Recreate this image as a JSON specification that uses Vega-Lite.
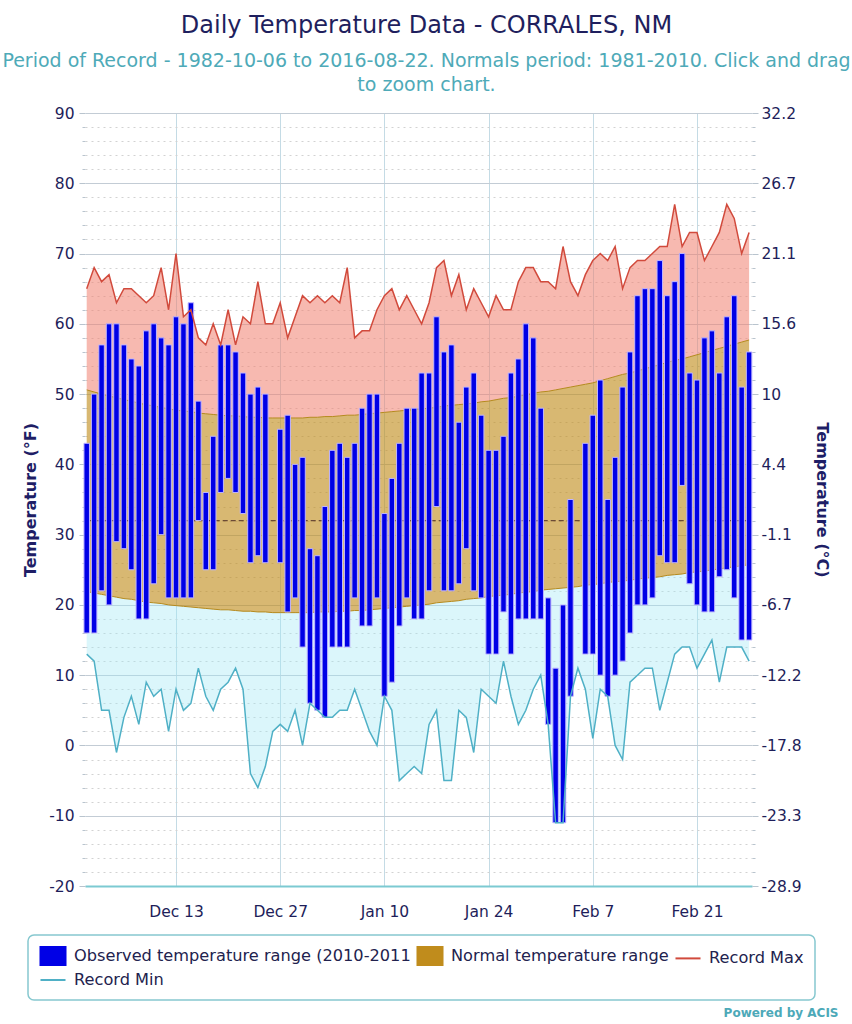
{
  "$schema": "https://vega.github.io/schema/vega-lite/v6.json",
  "width": 667,
  "height": 773,
  "autosize": {"type": "none"},
  "padding": {"left": 85, "top": 113, "right": 100, "bottom": 138},
  "background": "white",
  "title": {
    "text": "Daily Temperature Data - CORRALES, NM",
    "subtitle": ["Period of Record - 1982-10-06 to 2016-08-22. Normals period: 1981-2010. Click and drag", "to zoom chart."],
    "anchor": "middle",
    "frame": "group",
    "dx": 8,
    "font": "DejaVu Sans",
    "fontSize": 24,
    "fontWeight": "normal",
    "color": "#1f1f5e",
    "subtitleFont": "DejaVu Sans",
    "subtitleFontSize": 19,
    "subtitleColor": "#4eaab8",
    "subtitleLineHeight": 24,
    "subtitlePadding": 14,
    "offset": 11
  },
  "data": {"values": [
    {"d":"2010-12-01","lo":16,"hi":43,"rx":65,"rn":13,"nx":50.6,"nn":21.9},
    {"d":"2010-12-02","lo":16,"hi":50,"rx":68,"rn":12,"nx":50.3,"nn":21.7},
    {"d":"2010-12-03","lo":22,"hi":57,"rx":66,"rn":5,"nx":50.0,"nn":21.5},
    {"d":"2010-12-04","lo":20,"hi":60,"rx":67,"rn":5,"nx":49.7,"nn":21.3},
    {"d":"2010-12-05","lo":29,"hi":60,"rx":63,"rn":-1,"nx":49.5,"nn":21.1},
    {"d":"2010-12-06","lo":28,"hi":57,"rx":65,"rn":4,"nx":49.2,"nn":20.9},
    {"d":"2010-12-07","lo":25,"hi":55,"rx":65,"rn":7,"nx":49.0,"nn":20.8},
    {"d":"2010-12-08","lo":18,"hi":54,"rx":64,"rn":3,"nx":48.7,"nn":20.6},
    {"d":"2010-12-09","lo":18,"hi":59,"rx":63,"rn":9,"nx":48.5,"nn":20.4},
    {"d":"2010-12-10","lo":23,"hi":60,"rx":64,"rn":7,"nx":48.3,"nn":20.3},
    {"d":"2010-12-11","lo":30,"hi":58,"rx":68,"rn":8,"nx":48.1,"nn":20.2},
    {"d":"2010-12-12","lo":21,"hi":57,"rx":62,"rn":2,"nx":47.9,"nn":20.0},
    {"d":"2010-12-13","lo":21,"hi":61,"rx":70,"rn":8,"nx":47.7,"nn":19.9},
    {"d":"2010-12-14","lo":21,"hi":60,"rx":61,"rn":5,"nx":47.6,"nn":19.8},
    {"d":"2010-12-15","lo":21,"hi":63,"rx":62,"rn":6,"nx":47.5,"nn":19.7},
    {"d":"2010-12-16","lo":32,"hi":49,"rx":58,"rn":11,"nx":47.3,"nn":19.6},
    {"d":"2010-12-17","lo":25,"hi":36,"rx":57,"rn":7,"nx":47.2,"nn":19.5},
    {"d":"2010-12-18","lo":25,"hi":44,"rx":60,"rn":5,"nx":47.1,"nn":19.4},
    {"d":"2010-12-19","lo":36,"hi":57,"rx":57,"rn":8,"nx":47.0,"nn":19.3},
    {"d":"2010-12-20","lo":38,"hi":57,"rx":62,"rn":9,"nx":46.9,"nn":19.3},
    {"d":"2010-12-21","lo":36,"hi":56,"rx":57,"rn":11,"nx":46.9,"nn":19.2},
    {"d":"2010-12-22","lo":33,"hi":53,"rx":61,"rn":8,"nx":46.8,"nn":19.1},
    {"d":"2010-12-23","lo":26,"hi":50,"rx":60,"rn":-4,"nx":46.7,"nn":19.1},
    {"d":"2010-12-24","lo":27,"hi":51,"rx":66,"rn":-6,"nx":46.7,"nn":19.0},
    {"d":"2010-12-25","lo":26,"hi":50,"rx":60,"rn":-3,"nx":46.6,"nn":19.0},
    {"d":"2010-12-26","lo":null,"hi":null,"rx":60,"rn":2,"nx":46.6,"nn":18.9},
    {"d":"2010-12-27","lo":26,"hi":45,"rx":63,"rn":3,"nx":46.6,"nn":18.9},
    {"d":"2010-12-28","lo":19,"hi":47,"rx":58,"rn":2,"nx":46.6,"nn":18.9},
    {"d":"2010-12-29","lo":21,"hi":40,"rx":61,"rn":5,"nx":46.6,"nn":18.9},
    {"d":"2010-12-30","lo":14,"hi":41,"rx":64,"rn":0,"nx":46.6,"nn":18.9},
    {"d":"2010-12-31","lo":6,"hi":28,"rx":63,"rn":6,"nx":46.7,"nn":18.9},
    {"d":"2011-01-01","lo":5,"hi":27,"rx":64,"rn":5,"nx":46.7,"nn":19.0},
    {"d":"2011-01-02","lo":4,"hi":34,"rx":63,"rn":4,"nx":46.8,"nn":19.0},
    {"d":"2011-01-03","lo":14,"hi":42,"rx":64,"rn":4,"nx":46.8,"nn":19.0},
    {"d":"2011-01-04","lo":14,"hi":43,"rx":63,"rn":5,"nx":46.9,"nn":19.1},
    {"d":"2011-01-05","lo":14,"hi":41,"rx":68,"rn":5,"nx":47.0,"nn":19.1},
    {"d":"2011-01-06","lo":21,"hi":43,"rx":58,"rn":8,"nx":47.0,"nn":19.2},
    {"d":"2011-01-07","lo":17,"hi":48,"rx":59,"rn":5,"nx":47.1,"nn":19.2},
    {"d":"2011-01-08","lo":17,"hi":50,"rx":59,"rn":2,"nx":47.2,"nn":19.3},
    {"d":"2011-01-09","lo":21,"hi":50,"rx":62,"rn":0,"nx":47.3,"nn":19.4},
    {"d":"2011-01-10","lo":7,"hi":33,"rx":64,"rn":7,"nx":47.4,"nn":19.5},
    {"d":"2011-01-11","lo":9,"hi":38,"rx":65,"rn":5,"nx":47.5,"nn":19.6},
    {"d":"2011-01-12","lo":17,"hi":43,"rx":62,"rn":-5,"nx":47.6,"nn":19.7},
    {"d":"2011-01-13","lo":21,"hi":48,"rx":64,"rn":-4,"nx":47.7,"nn":19.8},
    {"d":"2011-01-14","lo":18,"hi":48,"rx":62,"rn":-3,"nx":47.8,"nn":19.9},
    {"d":"2011-01-15","lo":18,"hi":53,"rx":60,"rn":-4,"nx":47.9,"nn":20.0},
    {"d":"2011-01-16","lo":22,"hi":53,"rx":63,"rn":3,"nx":48.0,"nn":20.1},
    {"d":"2011-01-17","lo":34,"hi":61,"rx":68,"rn":5,"nx":48.1,"nn":20.3},
    {"d":"2011-01-18","lo":22,"hi":56,"rx":69,"rn":-5,"nx":48.3,"nn":20.4},
    {"d":"2011-01-19","lo":22,"hi":57,"rx":64,"rn":-5,"nx":48.4,"nn":20.5},
    {"d":"2011-01-20","lo":23,"hi":46,"rx":67,"rn":5,"nx":48.5,"nn":20.6},
    {"d":"2011-01-21","lo":28,"hi":51,"rx":62,"rn":4,"nx":48.6,"nn":20.8},
    {"d":"2011-01-22","lo":22,"hi":53,"rx":65,"rn":-1,"nx":48.7,"nn":20.9},
    {"d":"2011-01-23","lo":21,"hi":47,"rx":63,"rn":8,"nx":48.9,"nn":21.0},
    {"d":"2011-01-24","lo":13,"hi":42,"rx":61,"rn":7,"nx":49.0,"nn":21.2},
    {"d":"2011-01-25","lo":13,"hi":42,"rx":64,"rn":6,"nx":49.2,"nn":21.3},
    {"d":"2011-01-26","lo":19,"hi":44,"rx":62,"rn":12,"nx":49.4,"nn":21.4},
    {"d":"2011-01-27","lo":13,"hi":53,"rx":62,"rn":7,"nx":49.5,"nn":21.5},
    {"d":"2011-01-28","lo":18,"hi":55,"rx":66,"rn":3,"nx":49.7,"nn":21.7},
    {"d":"2011-01-29","lo":18,"hi":60,"rx":68,"rn":5,"nx":49.9,"nn":21.8},
    {"d":"2011-01-30","lo":18,"hi":58,"rx":68,"rn":8,"nx":50.1,"nn":21.9},
    {"d":"2011-01-31","lo":18,"hi":48,"rx":66,"rn":10,"nx":50.3,"nn":22.1},
    {"d":"2011-02-01","lo":3,"hi":21,"rx":66,"rn":3,"nx":50.4,"nn":22.2},
    {"d":"2011-02-02","lo":-11,"hi":11,"rx":65,"rn":-11,"nx":50.6,"nn":22.3},
    {"d":"2011-02-03","lo":-11,"hi":20,"rx":71,"rn":-11,"nx":50.8,"nn":22.4},
    {"d":"2011-02-04","lo":7,"hi":35,"rx":66,"rn":7,"nx":51.0,"nn":22.5},
    {"d":"2011-02-05","lo":null,"hi":null,"rx":64,"rn":11,"nx":51.2,"nn":22.6},
    {"d":"2011-02-06","lo":13,"hi":43,"rx":67,"rn":8,"nx":51.4,"nn":22.8},
    {"d":"2011-02-07","lo":13,"hi":47,"rx":69,"rn":1,"nx":51.6,"nn":22.9},
    {"d":"2011-02-08","lo":10,"hi":52,"rx":70,"rn":8,"nx":51.9,"nn":23.0},
    {"d":"2011-02-09","lo":7,"hi":35,"rx":69,"rn":7,"nx":52.2,"nn":23.2},
    {"d":"2011-02-10","lo":10,"hi":41,"rx":71,"rn":0,"nx":52.5,"nn":23.3},
    {"d":"2011-02-11","lo":12,"hi":51,"rx":65,"rn":-2,"nx":52.8,"nn":23.4},
    {"d":"2011-02-12","lo":16,"hi":56,"rx":68,"rn":9,"nx":53.0,"nn":23.5},
    {"d":"2011-02-13","lo":20,"hi":64,"rx":69,"rn":10,"nx":53.3,"nn":23.7},
    {"d":"2011-02-14","lo":20,"hi":65,"rx":69,"rn":11,"nx":53.6,"nn":23.8},
    {"d":"2011-02-15","lo":21,"hi":65,"rx":70,"rn":11,"nx":53.9,"nn":23.9},
    {"d":"2011-02-16","lo":27,"hi":69,"rx":71,"rn":5,"nx":54.2,"nn":24.0},
    {"d":"2011-02-17","lo":26,"hi":64,"rx":71,"rn":9,"nx":54.5,"nn":24.2},
    {"d":"2011-02-18","lo":26,"hi":66,"rx":77,"rn":13,"nx":54.8,"nn":24.3},
    {"d":"2011-02-19","lo":37,"hi":70,"rx":71,"rn":14,"nx":55.0,"nn":24.4},
    {"d":"2011-02-20","lo":23,"hi":53,"rx":73,"rn":14,"nx":55.3,"nn":24.6},
    {"d":"2011-02-21","lo":20,"hi":52,"rx":73,"rn":11,"nx":55.6,"nn":24.7},
    {"d":"2011-02-22","lo":19,"hi":58,"rx":69,"rn":13,"nx":55.9,"nn":24.8},
    {"d":"2011-02-23","lo":19,"hi":59,"rx":71,"rn":15,"nx":56.2,"nn":25.0},
    {"d":"2011-02-24","lo":24,"hi":53,"rx":73,"rn":9,"nx":56.5,"nn":25.1},
    {"d":"2011-02-25","lo":25,"hi":61,"rx":77,"rn":14,"nx":56.8,"nn":25.3},
    {"d":"2011-02-26","lo":21,"hi":64,"rx":75,"rn":14,"nx":57.1,"nn":25.4},
    {"d":"2011-02-27","lo":15,"hi":51,"rx":70,"rn":14,"nx":57.4,"nn":25.6},
    {"d":"2011-02-28","lo":15,"hi":56,"rx":73,"rn":12,"nx":57.7,"nn":25.7}
  ]},
  "encoding": {
    "x": {
      "field": "d",
      "type": "temporal",
      "scale": {
        "type": "utc",
        "nice": false,
        "padding": 0,
        "domain": [
          {"year": 2010, "month": "Nov", "date": 30, "hours": 18, "minutes": 30, "utc": true},
          {"year": 2011, "month": "Feb", "date": 28, "hours": 9, "minutes": 20, "utc": true}
        ]
      },
      "axis": {
        "values": [
          {"year": 2010, "month": "Dec", "date": 13, "utc": true},
          {"year": 2010, "month": "Dec", "date": 27, "utc": true},
          {"year": 2011, "month": "Jan", "date": 10, "utc": true},
          {"year": 2011, "month": "Jan", "date": 24, "utc": true},
          {"year": 2011, "month": "Feb", "date": 7, "utc": true},
          {"year": 2011, "month": "Feb", "date": 21, "utc": true}
        ],
        "labelExpr": "utcFormat(datum.value, '%b %-d')",
        "grid": true,
        "gridColor": "#c4dbe5",
        "gridWidth": 1,
        "ticks": false,
        "domainColor": "#7ccad2",
        "domainWidth": 2,
        "labelFontSize": 15.5,
        "labelColor": "#1e1e5a",
        "labelPadding": 18,
        "labelFlush": false,
        "labelOverlap": false,
        "title": "Powered by ACIS",
        "titleX": 753,
        "titleY": 130,
        "titleAlign": "right",
        "titleAnchor": "end",
        "titleBaseline": "alphabetic",
        "titleFontSize": 12,
        "titleFontWeight": "bold",
        "titleColor": "#4da9b8"
      }
    }
  },
  "layer": [
    {
      "layer": [
        {
          "mark": {"type": "area", "color": "#f08070", "opacity": 0.55},
          "encoding": {
            "y": {"field": "rx", "type": "quantitative", "scale": {"domain": [-20, 90], "nice": false, "zero": false},
              "axis": {"values": [-20,-18,-16,-14,-12,-10,-8,-6,-4,-2,0,2,4,6,8,10,12,14,16,18,20,22,24,26,28,30,32,34,36,38,40,42,44,46,48,50,52,54,56,58,60,62,64,66,68,70,72,74,76,78,80,82,84,86,88,90], "labelExpr": "datum.value % 10 === 0 ? (datum.value < 0 ? '-' + abs(datum.value) : '' + datum.value) : ''", "grid": true, "gridColor": {"condition": {"test": "datum.value % 10 !== 0", "value": "#d2d2d2"}, "value": "#c3ccd5"}, "gridDash": {"condition": {"test": "datum.value % 10 !== 0", "value": [2, 4]}, "value": []}, "tickSize": {"condition": {"test": "datum.value % 10 !== 0", "value": 3}, "value": 6}, "tickColor": "#b9c4ce", "domain": false, "labelFontSize": 15.5, "labelColor": "#1e1e5a", "labelPadding": 5, "labelOverlap": false, "labelFlush": false, "title": "Temperature (°F)", "titleFontSize": 16, "titleFontWeight": "bold", "titleColor": "#1e1e66", "titlePadding": 10}},
            "y2": {"field": "nx"}
          }
        },
        {
          "mark": {"type": "area", "color": "#a0e8f5", "opacity": 0.38},
          "encoding": {
            "y": {"field": "nn", "type": "quantitative", "scale": {"domain": [-20, 90], "nice": false, "zero": false},
              "axis": {"values": [-20,-18,-16,-14,-12,-10,-8,-6,-4,-2,0,2,4,6,8,10,12,14,16,18,20,22,24,26,28,30,32,34,36,38,40,42,44,46,48,50,52,54,56,58,60,62,64,66,68,70,72,74,76,78,80,82,84,86,88,90], "labelExpr": "datum.value % 10 === 0 ? (datum.value < 0 ? '-' + abs(datum.value) : '' + datum.value) : ''", "grid": true, "gridColor": {"condition": {"test": "datum.value % 10 !== 0", "value": "#d2d2d2"}, "value": "#c3ccd5"}, "gridDash": {"condition": {"test": "datum.value % 10 !== 0", "value": [2, 4]}, "value": []}, "tickSize": {"condition": {"test": "datum.value % 10 !== 0", "value": 3}, "value": 6}, "tickColor": "#b9c4ce", "domain": false, "labelFontSize": 15.5, "labelColor": "#1e1e5a", "labelPadding": 5, "labelOverlap": false, "labelFlush": false, "title": "Temperature (°F)", "titleFontSize": 16, "titleFontWeight": "bold", "titleColor": "#1e1e66", "titlePadding": 10}},
            "y2": {"field": "rn"}
          }
        },
        {
          "mark": {"type": "area", "opacity": 0.62},
          "encoding": {
            "y": {"field": "nx", "type": "quantitative", "scale": {"domain": [-20, 90], "nice": false, "zero": false},
              "axis": {"values": [-20,-18,-16,-14,-12,-10,-8,-6,-4,-2,0,2,4,6,8,10,12,14,16,18,20,22,24,26,28,30,32,34,36,38,40,42,44,46,48,50,52,54,56,58,60,62,64,66,68,70,72,74,76,78,80,82,84,86,88,90], "labelExpr": "datum.value % 10 === 0 ? (datum.value < 0 ? '-' + abs(datum.value) : '' + datum.value) : ''", "grid": true, "gridColor": {"condition": {"test": "datum.value % 10 !== 0", "value": "#d2d2d2"}, "value": "#c3ccd5"}, "gridDash": {"condition": {"test": "datum.value % 10 !== 0", "value": [2, 4]}, "value": []}, "tickSize": {"condition": {"test": "datum.value % 10 !== 0", "value": 3}, "value": 6}, "tickColor": "#b9c4ce", "domain": false, "labelFontSize": 15.5, "labelColor": "#1e1e5a", "labelPadding": 5, "labelOverlap": false, "labelFlush": false, "title": "Temperature (°F)", "titleFontSize": 16, "titleFontWeight": "bold", "titleColor": "#1e1e66", "titlePadding": 10}},
            "y2": {"field": "nn"},
            "color": {
              "datum": "Normal temperature range",
              "type": "nominal",
              "scale": {"domain": ["Observed temperature range (2010-2011", "Normal temperature range", "Record Max", "Record Min"], "range": ["#0000e6", "#c08c1c", "#d14a3c", "#4fb0c6"]},
              "legend": {"title": null, "orient": "none", "legendX": -57, "legendY": 822, "direction": "horizontal", "columns": 3, "symbolOffset": 4,
                "encode": {"symbols": {"update": {
                  "shape": {"signal": "indexof(['Record Max','Record Min'], datum.value) >= 0 ? 'M-1.39,0L1.39,0' : 'M-1.39,-1L1.39,-1L1.39,1L-1.39,1Z'"},
                  "fill": {"signal": "datum.value === 'Normal temperature range' ? '#c08c1c' : (indexof(['Record Max','Record Min'], datum.value) >= 0 ? 'transparent' : '#0000ee')"},
                  "stroke": {"signal": "datum.value === 'Record Max' ? '#d14a3c' : (datum.value === 'Record Min' ? '#4fb0c6' : 'transparent')"},
                  "strokeWidth": {"value": 2}, "opacity": {"value": 1}, "fillOpacity": {"value": 1}, "strokeOpacity": {"value": 1}, "size": {"value": 324}}}}}
            }
          }
        },
        {
          "mark": {"type": "line", "color": "#b58a1e", "strokeWidth": 1},
          "encoding": {
            "y": {"field": "nx", "type": "quantitative", "scale": {"domain": [-20, 90], "nice": false, "zero": false},
              "axis": {"values": [-20,-18,-16,-14,-12,-10,-8,-6,-4,-2,0,2,4,6,8,10,12,14,16,18,20,22,24,26,28,30,32,34,36,38,40,42,44,46,48,50,52,54,56,58,60,62,64,66,68,70,72,74,76,78,80,82,84,86,88,90], "labelExpr": "datum.value % 10 === 0 ? (datum.value < 0 ? '-' + abs(datum.value) : '' + datum.value) : ''", "grid": true, "gridColor": {"condition": {"test": "datum.value % 10 !== 0", "value": "#d2d2d2"}, "value": "#c3ccd5"}, "gridDash": {"condition": {"test": "datum.value % 10 !== 0", "value": [2, 4]}, "value": []}, "tickSize": {"condition": {"test": "datum.value % 10 !== 0", "value": 3}, "value": 6}, "tickColor": "#b9c4ce", "domain": false, "labelFontSize": 15.5, "labelColor": "#1e1e5a", "labelPadding": 5, "labelOverlap": false, "labelFlush": false, "title": "Temperature (°F)", "titleFontSize": 16, "titleFontWeight": "bold", "titleColor": "#1e1e66", "titlePadding": 10}}
          }
        },
        {
          "mark": {"type": "line", "color": "#b58a1e", "strokeWidth": 1},
          "encoding": {
            "y": {"field": "nn", "type": "quantitative", "scale": {"domain": [-20, 90], "nice": false, "zero": false},
              "axis": {"values": [-20,-18,-16,-14,-12,-10,-8,-6,-4,-2,0,2,4,6,8,10,12,14,16,18,20,22,24,26,28,30,32,34,36,38,40,42,44,46,48,50,52,54,56,58,60,62,64,66,68,70,72,74,76,78,80,82,84,86,88,90], "labelExpr": "datum.value % 10 === 0 ? (datum.value < 0 ? '-' + abs(datum.value) : '' + datum.value) : ''", "grid": true, "gridColor": {"condition": {"test": "datum.value % 10 !== 0", "value": "#d2d2d2"}, "value": "#c3ccd5"}, "gridDash": {"condition": {"test": "datum.value % 10 !== 0", "value": [2, 4]}, "value": []}, "tickSize": {"condition": {"test": "datum.value % 10 !== 0", "value": 3}, "value": 6}, "tickColor": "#b9c4ce", "domain": false, "labelFontSize": 15.5, "labelColor": "#1e1e5a", "labelPadding": 5, "labelOverlap": false, "labelFlush": false, "title": "Temperature (°F)", "titleFontSize": 16, "titleFontWeight": "bold", "titleColor": "#1e1e66", "titlePadding": 10}}
          }
        },
        {
          "mark": {"type": "line", "color": "#6b4a35", "strokeDash": [5, 3], "strokeWidth": 1.2},
          "encoding": {
            "y": {"datum": 32, "type": "quantitative", "scale": {"domain": [-20, 90], "nice": false, "zero": false},
              "axis": {"values": [-20,-18,-16,-14,-12,-10,-8,-6,-4,-2,0,2,4,6,8,10,12,14,16,18,20,22,24,26,28,30,32,34,36,38,40,42,44,46,48,50,52,54,56,58,60,62,64,66,68,70,72,74,76,78,80,82,84,86,88,90], "labelExpr": "datum.value % 10 === 0 ? (datum.value < 0 ? '-' + abs(datum.value) : '' + datum.value) : ''", "grid": true, "gridColor": {"condition": {"test": "datum.value % 10 !== 0", "value": "#d2d2d2"}, "value": "#c3ccd5"}, "gridDash": {"condition": {"test": "datum.value % 10 !== 0", "value": [2, 4]}, "value": []}, "tickSize": {"condition": {"test": "datum.value % 10 !== 0", "value": 3}, "value": 6}, "tickColor": "#b9c4ce", "domain": false, "labelFontSize": 15.5, "labelColor": "#1e1e5a", "labelPadding": 5, "labelOverlap": false, "labelFlush": false, "title": "Temperature (°F)", "titleFontSize": 16, "titleFontWeight": "bold", "titleColor": "#1e1e66", "titlePadding": 10}}
          }
        },
        {
          "mark": {"type": "bar", "size": 5.5, "stroke": "#c0b6ff", "strokeWidth": 1},
          "encoding": {
            "y": {"field": "lo", "type": "quantitative", "scale": {"domain": [-20, 90], "nice": false, "zero": false},
              "axis": {"values": [-20,-18,-16,-14,-12,-10,-8,-6,-4,-2,0,2,4,6,8,10,12,14,16,18,20,22,24,26,28,30,32,34,36,38,40,42,44,46,48,50,52,54,56,58,60,62,64,66,68,70,72,74,76,78,80,82,84,86,88,90], "labelExpr": "datum.value % 10 === 0 ? (datum.value < 0 ? '-' + abs(datum.value) : '' + datum.value) : ''", "grid": true, "gridColor": {"condition": {"test": "datum.value % 10 !== 0", "value": "#d2d2d2"}, "value": "#c3ccd5"}, "gridDash": {"condition": {"test": "datum.value % 10 !== 0", "value": [2, 4]}, "value": []}, "tickSize": {"condition": {"test": "datum.value % 10 !== 0", "value": 3}, "value": 6}, "tickColor": "#b9c4ce", "domain": false, "labelFontSize": 15.5, "labelColor": "#1e1e5a", "labelPadding": 5, "labelOverlap": false, "labelFlush": false, "title": "Temperature (°F)", "titleFontSize": 16, "titleFontWeight": "bold", "titleColor": "#1e1e66", "titlePadding": 10}},
            "y2": {"field": "hi"},
            "color": {
              "datum": "Observed temperature range (2010-2011",
              "type": "nominal",
              "scale": {"domain": ["Observed temperature range (2010-2011", "Normal temperature range", "Record Max", "Record Min"], "range": ["#0000e6", "#c08c1c", "#d14a3c", "#4fb0c6"]},
              "legend": {"title": null, "orient": "none", "legendX": -57, "legendY": 822, "direction": "horizontal", "columns": 3, "symbolOffset": 4,
                "encode": {"symbols": {"update": {
                  "shape": {"signal": "indexof(['Record Max','Record Min'], datum.value) >= 0 ? 'M-1.39,0L1.39,0' : 'M-1.39,-1L1.39,-1L1.39,1L-1.39,1Z'"},
                  "fill": {"signal": "datum.value === 'Normal temperature range' ? '#c08c1c' : (indexof(['Record Max','Record Min'], datum.value) >= 0 ? 'transparent' : '#0000ee')"},
                  "stroke": {"signal": "datum.value === 'Record Max' ? '#d14a3c' : (datum.value === 'Record Min' ? '#4fb0c6' : 'transparent')"},
                  "strokeWidth": {"value": 2}, "opacity": {"value": 1}, "fillOpacity": {"value": 1}, "strokeOpacity": {"value": 1}, "size": {"value": 324}}}}}
            }
          }
        },
        {
          "mark": {"type": "line", "strokeWidth": 1.5},
          "encoding": {
            "y": {"field": "rx", "type": "quantitative", "scale": {"domain": [-20, 90], "nice": false, "zero": false},
              "axis": {"values": [-20,-18,-16,-14,-12,-10,-8,-6,-4,-2,0,2,4,6,8,10,12,14,16,18,20,22,24,26,28,30,32,34,36,38,40,42,44,46,48,50,52,54,56,58,60,62,64,66,68,70,72,74,76,78,80,82,84,86,88,90], "labelExpr": "datum.value % 10 === 0 ? (datum.value < 0 ? '-' + abs(datum.value) : '' + datum.value) : ''", "grid": true, "gridColor": {"condition": {"test": "datum.value % 10 !== 0", "value": "#d2d2d2"}, "value": "#c3ccd5"}, "gridDash": {"condition": {"test": "datum.value % 10 !== 0", "value": [2, 4]}, "value": []}, "tickSize": {"condition": {"test": "datum.value % 10 !== 0", "value": 3}, "value": 6}, "tickColor": "#b9c4ce", "domain": false, "labelFontSize": 15.5, "labelColor": "#1e1e5a", "labelPadding": 5, "labelOverlap": false, "labelFlush": false, "title": "Temperature (°F)", "titleFontSize": 16, "titleFontWeight": "bold", "titleColor": "#1e1e66", "titlePadding": 10}},
            "color": {
              "datum": "Record Max",
              "type": "nominal",
              "scale": {"domain": ["Observed temperature range (2010-2011", "Normal temperature range", "Record Max", "Record Min"], "range": ["#0000e6", "#c08c1c", "#d14a3c", "#4fb0c6"]},
              "legend": {"title": null, "orient": "none", "legendX": -57, "legendY": 822, "direction": "horizontal", "columns": 3, "symbolOffset": 4,
                "encode": {"symbols": {"update": {
                  "shape": {"signal": "indexof(['Record Max','Record Min'], datum.value) >= 0 ? 'M-1.39,0L1.39,0' : 'M-1.39,-1L1.39,-1L1.39,1L-1.39,1Z'"},
                  "fill": {"signal": "datum.value === 'Normal temperature range' ? '#c08c1c' : (indexof(['Record Max','Record Min'], datum.value) >= 0 ? 'transparent' : '#0000ee')"},
                  "stroke": {"signal": "datum.value === 'Record Max' ? '#d14a3c' : (datum.value === 'Record Min' ? '#4fb0c6' : 'transparent')"},
                  "strokeWidth": {"value": 2}, "opacity": {"value": 1}, "fillOpacity": {"value": 1}, "strokeOpacity": {"value": 1}, "size": {"value": 324}}}}}
            }
          }
        }
      ]
    },
    {
      "mark": {"type": "line", "strokeWidth": 1.5},
      "encoding": {
        "y": {
          "field": "rn",
          "type": "quantitative",
          "scale": {"domain": [-20, 90], "nice": false, "zero": false},
          "axis": {
            "orient": "right",
            "values": [-20,-18,-16,-14,-12,-10,-8,-6,-4,-2,0,2,4,6,8,10,12,14,16,18,20,22,24,26,28,30,32,34,36,38,40,42,44,46,48,50,52,54,56,58,60,62,64,66,68,70,72,74,76,78,80,82,84,86,88,90],
            "labelExpr": "datum.value % 10 === 0 ? (((datum.value - 32) * 5 / 9 < 0) ? '-' : '') + replace(format(abs((datum.value - 32) * 5 / 9), '.1f'), '.0', '') : ''",
            "grid": false,
            "tickSize": {"condition": {"test": "datum.value % 10 !== 0", "value": 3}, "value": 6},
            "tickColor": "#b9c4ce",
            "domain": false,
            "labelFontSize": 15.5,
            "labelColor": "#1e1e5a",
            "labelPadding": 3,
            "labelOverlap": false,
            "labelFlush": false,
            "title": "Temperature (°C)",
            "titleFontSize": 16,
            "titleFontWeight": "bold",
            "titleColor": "#1e1e66",
            "titlePadding": 12
          }
        },
        "color": {
          "datum": "Record Min",
          "type": "nominal",
          "scale": {"domain": ["Observed temperature range (2010-2011", "Normal temperature range", "Record Max", "Record Min"], "range": ["#0000e6", "#c08c1c", "#d14a3c", "#4fb0c6"]},
          "legend": {"title": null, "orient": "none", "legendX": -57, "legendY": 822, "direction": "horizontal", "columns": 3, "symbolOffset": 4,
            "encode": {"symbols": {"update": {
              "shape": {"signal": "indexof(['Record Max','Record Min'], datum.value) >= 0 ? 'M-1.39,0L1.39,0' : 'M-1.39,-1L1.39,-1L1.39,1L-1.39,1Z'"},
              "fill": {"signal": "datum.value === 'Normal temperature range' ? '#c08c1c' : (indexof(['Record Max','Record Min'], datum.value) >= 0 ? 'transparent' : '#0000ee')"},
              "stroke": {"signal": "datum.value === 'Record Max' ? '#d14a3c' : (datum.value === 'Record Min' ? '#4fb0c6' : 'transparent')"},
              "strokeWidth": {"value": 2}, "opacity": {"value": 1}, "fillOpacity": {"value": 1}, "strokeOpacity": {"value": 1}, "size": {"value": 324}}}}}
        }
      }
    }
  ],
  "resolve": {"axis": {"y": "independent"}},
  "config": {
    "font": "DejaVu Sans",
    "view": {"stroke": null},
    "axis": {"labelFont": "DejaVu Sans", "titleFont": "DejaVu Sans"},
    "legend": {
      "labelFont": "DejaVu Sans",
      "labelFontSize": 16.2,
      "labelColor": "#22224e",
      "labelLimit": 600,
      "symbolSize": 324,
      "labelOffset": 11,
      "columnPadding": 2,
      "rowPadding": 1,
      "padding": 11,
      "strokeColor": "#86c8cf",
      "strokeWidth": 1.5,
      "cornerRadius": 6,
      "fillColor": "white"
    }
  }
}
